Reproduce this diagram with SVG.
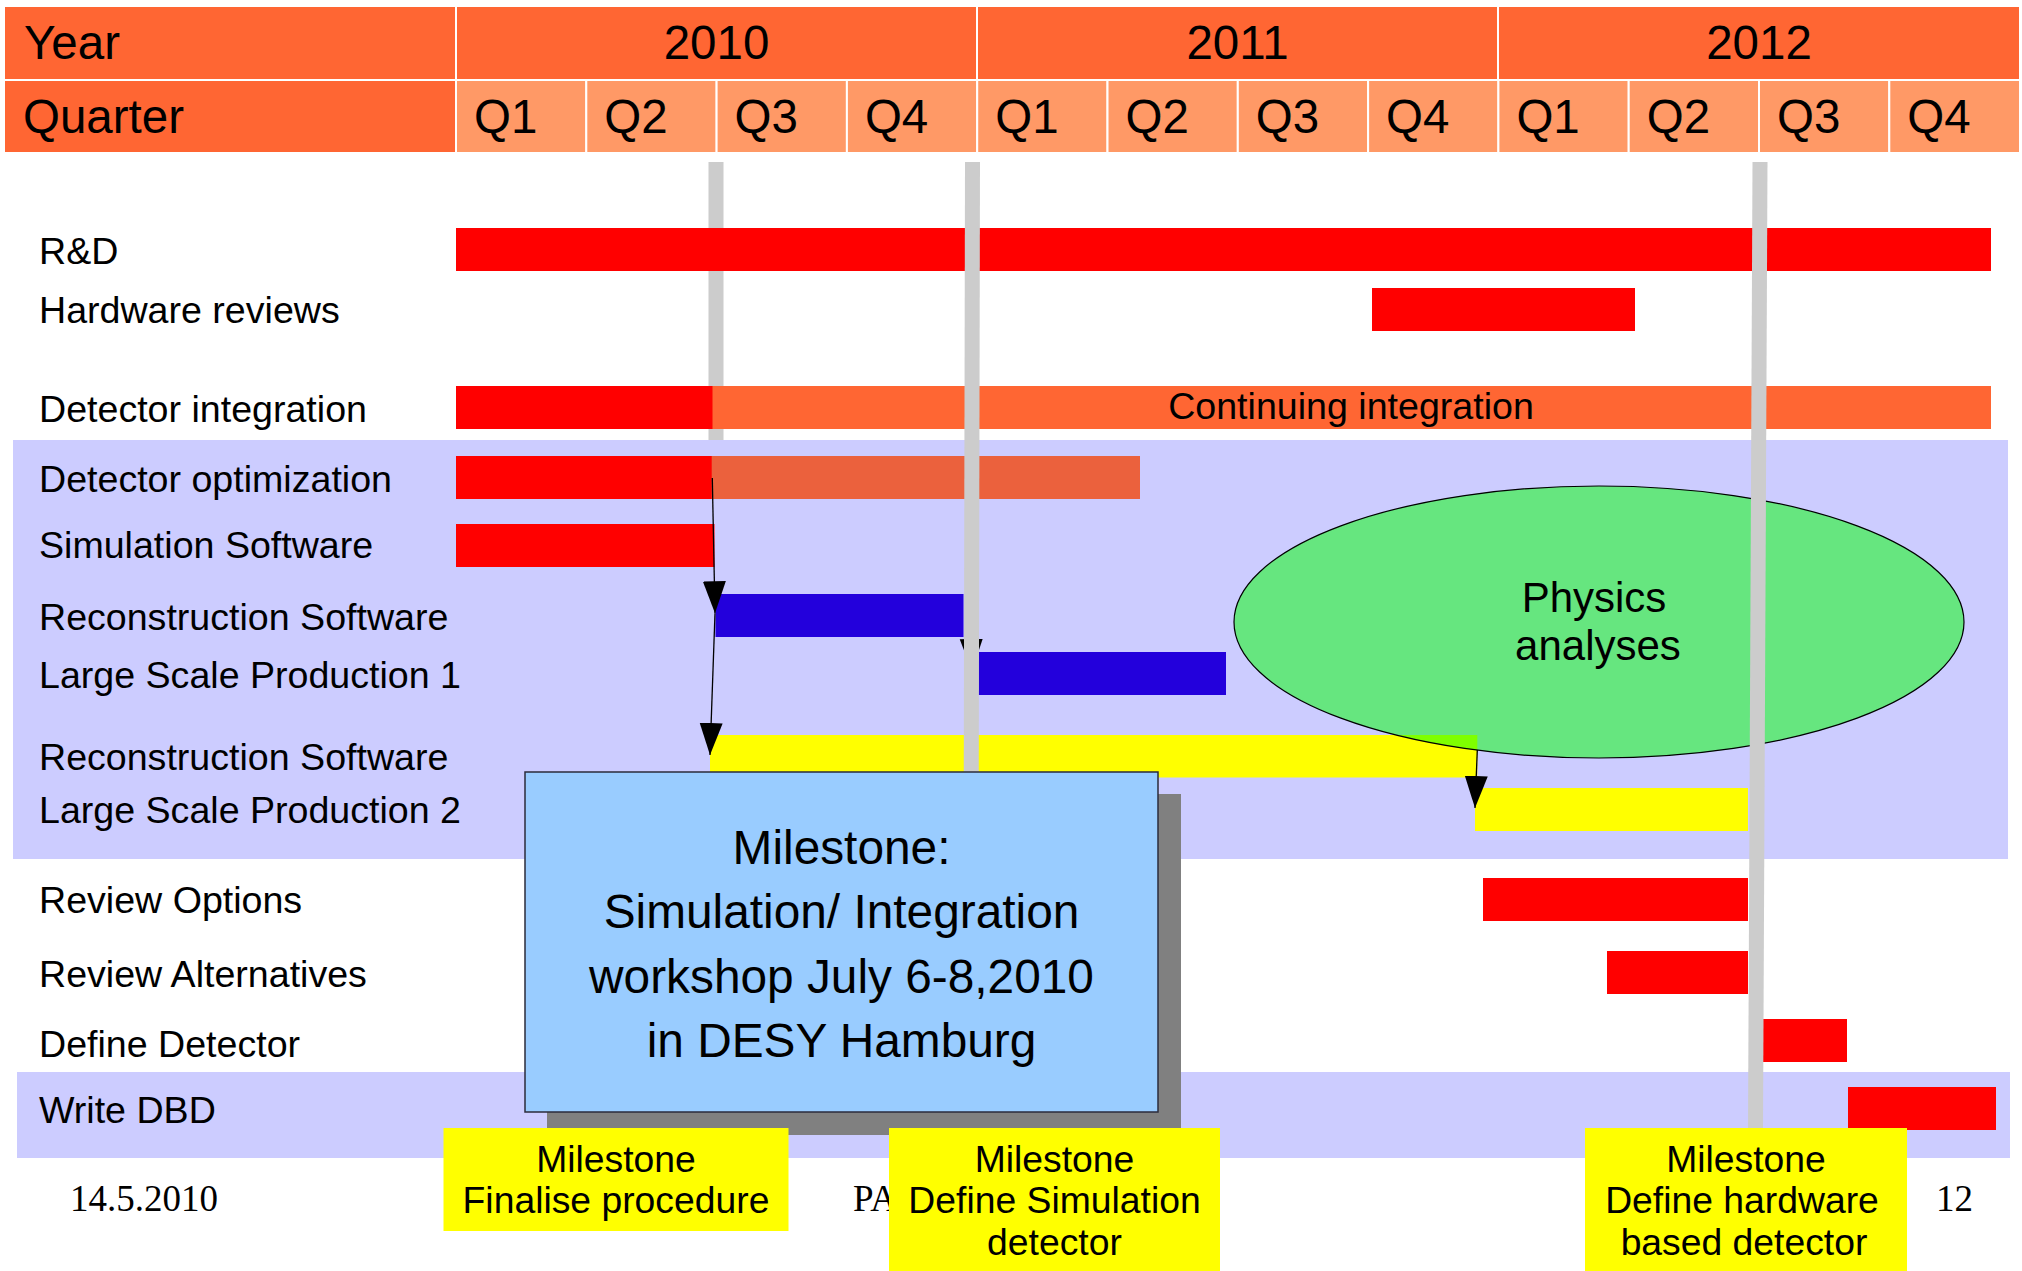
<svg xmlns="http://www.w3.org/2000/svg" width="2022" height="1271" viewBox="0 0 2022 1271">
<style>
text { font-family: "Liberation Sans", Arial, sans-serif; fill: #000; }
.hy { fill: #FF6633; stroke: #FFFFFF; stroke-width: 2; }
.hq { fill: #FF9966; stroke: #FFFFFF; stroke-width: 2; }
.ht { font-size: 47.5px; }
.lbl { font-size: 37.6px; }
.red { fill: #FF0000; }
.org { fill: #FF6633; }
.sal { fill: #EB613D; }
.blu { fill: #2300DC; }
.yel { fill: #FFFF00; }
.band { fill: #CCCCFF; }
.gline { stroke: #CCCCCC; stroke-width: 15; fill: none; }
.conn { stroke: #000; stroke-width: 1.3; fill: none; marker-end: url(#ah); }
.ms { fill: #FFFF00; }
.mst { font-size: 37.3px; text-anchor: middle; }
.big { font-size: 47.8px; text-anchor: middle; }
.foot { font-family: "Liberation Serif", "Times New Roman", serif; font-size: 37px; }
</style>
<defs>
<marker id="ah" markerUnits="userSpaceOnUse" markerWidth="34" markerHeight="24" refX="32" refY="11.5" orient="auto" viewBox="0 0 34 24">
<path d="M0,0 L32,11.5 L0,23 Z" fill="#000"/>
</marker>
</defs>
<rect width="2022" height="1271" fill="#FFFFFF"/>

<g id="header">
<rect class="hy" x="4" y="6" width="452" height="74"/>
<rect class="hy" x="456" y="6" width="521" height="74"/>
<rect class="hy" x="977" y="6" width="521" height="74"/>
<rect class="hy" x="1498" y="6" width="522" height="74"/>
<rect class="hy" x="4" y="80" width="452" height="73"/>
<rect class="hq" x="456" y="80" width="130.3" height="73"/>
<rect class="hq" x="586.3" y="80" width="130.3" height="73"/>
<rect class="hq" x="716.6" y="80" width="130.3" height="73"/>
<rect class="hq" x="846.9" y="80" width="130.3" height="73"/>
<rect class="hq" x="977.2" y="80" width="130.3" height="73"/>
<rect class="hq" x="1107.5" y="80" width="130.3" height="73"/>
<rect class="hq" x="1237.8" y="80" width="130.3" height="73"/>
<rect class="hq" x="1368.1" y="80" width="130.3" height="73"/>
<rect class="hq" x="1498.4" y="80" width="130.3" height="73"/>
<rect class="hq" x="1628.7" y="80" width="130.3" height="73"/>
<rect class="hq" x="1759" y="80" width="130.3" height="73"/>
<rect class="hq" x="1889.3" y="80" width="130.7" height="73"/>
<text class="ht" x="24" y="59">Year</text>
<text class="ht" x="716.5" y="59" text-anchor="middle">2010</text>
<text class="ht" x="1237.5" y="59" text-anchor="middle">2011</text>
<text class="ht" x="1759" y="59" text-anchor="middle">2012</text>
<text class="ht" x="23" y="133">Quarter</text>
<text class="ht" x="474" y="133">Q1</text>
<text class="ht" x="604.3" y="133">Q2</text>
<text class="ht" x="734.6" y="133">Q3</text>
<text class="ht" x="864.9" y="133">Q4</text>
<text class="ht" x="995.2" y="133">Q1</text>
<text class="ht" x="1125.5" y="133">Q2</text>
<text class="ht" x="1255.8" y="133">Q3</text>
<text class="ht" x="1386.1" y="133">Q4</text>
<text class="ht" x="1516.4" y="133">Q1</text>
<text class="ht" x="1646.7" y="133">Q2</text>
<text class="ht" x="1777" y="133">Q3</text>
<text class="ht" x="1907.3" y="133">Q4</text>
</g>

<g id="milestone-line-1">
<line class="gline" x1="716" y1="162" x2="716" y2="445"/>
</g>

<g id="task-rd"><rect class="red" x="456" y="228" width="1535" height="43"/></g>
<g id="task-hw"><rect class="red" x="1372" y="288" width="263" height="43"/></g>
<g id="task-integration">
<rect class="red" x="456" y="386" width="257" height="43"/>
<rect class="org" x="712.5" y="386" width="1278.5" height="43"/>
<text class="lbl" x="1351" y="419" text-anchor="middle">Continuing integration</text>
</g>

<g id="bands">
<rect class="band" x="13" y="440" width="1995" height="419"/>
<rect class="band" x="17" y="1072" width="1993" height="86"/>
</g>

<g id="task-optimization">
<rect class="red" x="456" y="456" width="256" height="43"/>
<rect class="sal" x="711.7" y="456" width="428.3" height="43"/>
</g>
<g id="task-simulation"><rect class="red" x="456" y="524" width="258.5" height="43"/></g>
<g id="task-reco1"><rect class="blu" x="715.5" y="594" width="248" height="43"/></g>
<g id="task-lsp1"><rect class="blu" x="978.5" y="652" width="247.5" height="43"/></g>
<g id="task-reco2"><rect class="yel" x="710" y="735" width="767.3" height="42.5"/></g>
<g id="task-lsp2"><rect class="yel" x="1475" y="788" width="273" height="43"/></g>
<g id="task-review-options"><rect class="red" x="1483" y="878" width="265" height="43"/></g>
<g id="task-review-alt"><rect class="red" x="1607" y="951" width="141" height="43"/></g>
<g id="task-define"><rect class="red" x="1763" y="1019" width="84" height="43"/></g>
<g id="task-dbd"><rect class="red" x="1848" y="1087" width="148" height="43"/></g>

<g id="labels">
<text class="lbl" x="39" y="264">R&amp;D</text>
<text class="lbl" x="39" y="323">Hardware reviews</text>
<text class="lbl" x="39" y="421.7">Detector integration</text>
<text class="lbl" x="39" y="491.7">Detector optimization</text>
<text class="lbl" x="39" y="558">Simulation Software</text>
<text class="lbl" x="39" y="630">Reconstruction Software</text>
<text class="lbl" x="39" y="687.7">Large Scale Production 1</text>
<text class="lbl" x="39" y="770">Reconstruction Software</text>
<text class="lbl" x="39" y="822.7">Large Scale Production 2</text>
<text class="lbl" x="39" y="913.3">Review Options</text>
<text class="lbl" x="39" y="986.7">Review Alternatives</text>
<text class="lbl" x="39" y="1056.7">Define Detector</text>
<text class="lbl" x="39" y="1123.3">Write DBD</text>
</g>

<g id="physics-analyses">
<ellipse cx="1599" cy="622" rx="365" ry="136" fill="#00FF00" fill-opacity="0.5" stroke="#000" stroke-width="1.2"/>
<text x="1594" y="612" font-size="42" text-anchor="middle">Physics</text>
<text x="1598" y="660" font-size="42" text-anchor="middle">analyses</text>
</g>

<g id="connectors">
<line class="conn" x1="712.3" y1="478" x2="715" y2="613.3"/>
<line class="conn" x1="715" y1="613.3" x2="710" y2="755"/>
<line class="conn" x1="971" y1="630" x2="972" y2="671"/>
<line class="conn" x1="1477.3" y1="750" x2="1475" y2="808"/>
</g>

<g id="milestone-lines">
<line class="gline" x1="972.5" y1="162" x2="970.5" y2="1130"/>
<line class="gline" x1="1760" y1="162" x2="1755.5" y2="1130"/>
</g>

<g id="footer">
<text class="foot" x="70" y="1210.7">14.5.2010</text>
<text class="foot" x="853" y="1210.7">PA</text>
<text class="foot" x="1936" y="1210.7">12</text>
</g>

<g id="workshop-milestone">
<rect x="547" y="794" width="634" height="341" fill="#808080"/>
<rect x="525" y="772" width="633" height="340" fill="#99CCFF" stroke="#2B2B3B" stroke-width="1.5"/>
<text class="big" x="841.5" y="864">Milestone:</text>
<text class="big" x="841.5" y="928">Simulation/ Integration</text>
<text class="big" x="841.5" y="993">workshop July 6-8,2010</text>
<text class="big" x="841.5" y="1057">in DESY Hamburg</text>
</g>

<g id="milestone-finalise">
<rect class="ms" x="443.5" y="1128" width="345" height="103"/>
<text class="mst" x="616" y="1172">Milestone</text>
<text class="mst" x="616" y="1213">Finalise procedure</text>
</g>
<g id="milestone-simulation">
<rect class="ms" x="889" y="1128" width="331" height="143"/>
<text class="mst" x="1054.5" y="1172">Milestone</text>
<text class="mst" x="1054.5" y="1213">Define Simulation</text>
<text class="mst" x="1054.5" y="1255">detector</text>
</g>
<g id="milestone-hardware">
<rect class="ms" x="1585" y="1128" width="322" height="143"/>
<text class="mst" x="1746" y="1172">Milestone</text>
<text class="mst" x="1742" y="1213">Define hardware</text>
<text class="mst" x="1744" y="1255">based detector</text>
</g>
</svg>
